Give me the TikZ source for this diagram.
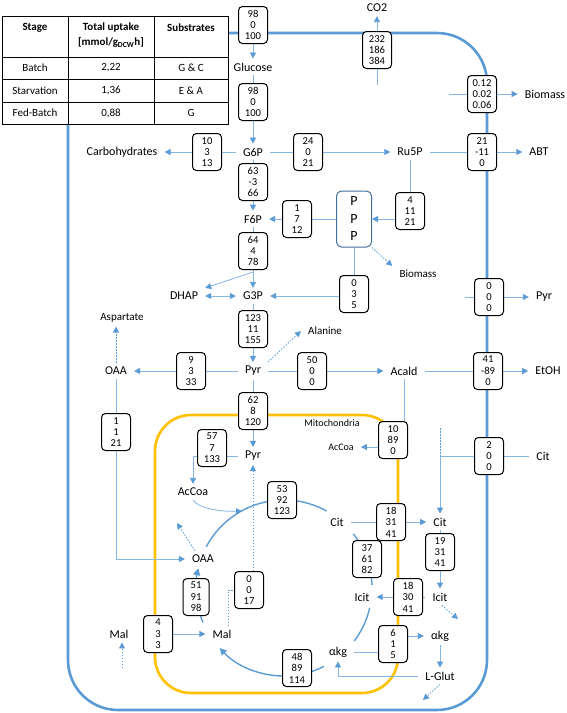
\documentclass[tikz,border=0pt]{standalone}
\usepackage{fontspec}
\setmainfont{Carlito}
\usetikzlibrary{arrows.meta,backgrounds,calc}
\definecolor{memblue}{HTML}{5B9BD5}
\definecolor{lineblue}{HTML}{86B5E2}
\definecolor{tipblue}{HTML}{5B9BD5}
\definecolor{mitoorange}{HTML}{FFC000}
\definecolor{pppblue}{HTML}{41719C}
\tikzset{
 lab/.style={font=\fontsize{12}{14}\selectfont, inner xsep=7pt, inner ysep=4pt},
 slab/.style={lab, font=\fontsize{11}{13}\selectfont},
 tlab/.style={lab, font=\fontsize{10}{12}\selectfont},
 fbox/.style={draw=black, line width=1pt, rounded corners=4pt, fill=white, align=center, minimum width=29pt, minimum height=37pt, inner sep=1pt, font=\fontsize{10.6}{11.4}\selectfont},
 pppbox/.style={draw=pppblue, line width=1pt, rounded corners=5pt, fill=white, align=center, minimum width=35pt, minimum height=56pt, inner sep=1pt, font=\fontsize{14}{17.5}\selectfont},
 ln/.style={draw=lineblue, line width=0.8pt},
 arr/.style={ln, -{Triangle[length=6pt,width=6pt,color=tipblue]}},
 dbl/.style={ln, {Triangle[length=6pt,width=6pt,color=tipblue]}-{Triangle[length=6pt,width=6pt,color=tipblue]}},
 dln/.style={draw=tipblue, line width=0.8pt, dash pattern=on 1.5pt off 1.5pt},
 darr/.style={dln, -{Triangle[length=6pt,width=6pt]}},
 ring/.style={draw=memblue, line width=1.4pt},
 rarr/.style={ring, -{Triangle[length=7pt,width=7pt]}},
 membrane/.style={draw=memblue, line width=2.6pt},
 mito/.style={draw=mitoorange, line width=2.6pt},
 tabline/.style={draw=black, line width=0.8pt},
 cell/.style={font=\fontsize{11}{13}\selectfont, inner sep=0pt},
 hcell/.style={font=\fontsize{11}{15}\selectfont\bfseries, inner sep=0pt, align=center},
}
\begin{document}
\begin{tikzpicture}[x=1pt,y=-1pt]
\useasboundingbox (0,0) rectangle (567,713);
% table
\draw[tabline] (2,16) rectangle (228,124);
\draw[tabline] (68,16) -- (68,124) (154,16) -- (154,124);
\draw[tabline] (2,57) -- (228,57) (2,79.5) -- (228,79.5) (2,102) -- (228,102);
\node[hcell] (hStage) at (35,28) {Stage};
\node[hcell] (hUp) at (111,35.5) {Total uptake\\{[mmol/g\textsubscript{DCW}h]}};
\node[hcell] (hSub) at (191,28) {Substrates};
\node[cell] (r1a) at (35,68) {Batch};
\node[cell] (r1b) at (111,68) {2,22};
\node[cell] (r1c) at (191,68) {G \& C};
\node[cell] (r2a) at (35,90.5) {Starvation};
\node[cell] (r2b) at (111,90.5) {1,36};
\node[cell] (r2c) at (191,90.5) {E \& A};
\node[cell] (r3a) at (35,113) {Fed-Batch};
\node[cell] (r3b) at (111,113) {0,88};
\node[cell] (r3c) at (191,113) {G};
% nodes
\node[fbox] (bGlcUp) at (253,25) {98\\0\\100};
\node[lab] (glc) at (253,67) {Glucose};
\node[fbox] (bGlc) at (253,102) {98\\0\\100};
\node[lab] (g6p) at (253,152) {G6P};
\node[fbox] (bCO2) at (377,50) {232\\186\\384};
\node[lab] (co2) at (377,8) {CO2};
\coordinate (co2in) at (377,85);
\node[fbox] (bBio) at (482,94) {0.12\\0.02\\0.06};
\node[lab] (bio1) at (545,94) {Biomass};
\coordinate (bioin) at (449,94);
\node[lab] (carb) at (122,152) {Carbohydrates};
\node[fbox] (bCarb) at (207,152) {10\\3\\13};
\node[fbox] (bG6PRu) at (308,152) {24\\0\\21};
\node[lab] (ru5p) at (410,152) {Ru5P};
\node[fbox] (bABT) at (482,152) {21\\-11\\0};
\node[lab] (abt) at (539,152) {ABT};
\node[fbox] (bF6P) at (253,182) {63\\-3\\66};
\node[lab] (f6p) at (253,219) {F6P};
\node[fbox] (bPPF) at (297,219) {1\\7\\12};
\node[pppbox] (ppp) at (354,219) {P\\P\\P};
\node[fbox] (bRuP) at (410,211) {4\\11\\21};
\node[slab] (bio2) at (418,274) {Biomass};
\node[fbox] (bPG) at (354,294) {0\\3\\5};
\node[fbox] (bFG) at (253,251) {64\\4\\78};
\coordinate (brDHAP) at (253,272);
\node[lab] (dhap) at (184,296) {DHAP};
\node[lab] (g3p) at (253,296) {G3P};
\node[fbox] (bGP) at (253,329) {123\\11\\155};
\node[lab] (pyrc) at (253,371) {Pyr};
\node[slab] (ala) at (325,331) {Alanine};
\node[slab] (asp) at (122,318) {Aspartate};
\node[lab] (oaac) at (116,371) {OAA};
\node[fbox] (bPO) at (191,371) {9\\3\\33};
\node[fbox] (bPA) at (312,371) {50\\0\\0};
\node[lab] (acald) at (404,371) {Acald};
\node[fbox] (bEt) at (488,371) {41\\-89\\0};
\node[lab] (etoh) at (548,371) {EtOH};
\node[fbox] (bPX) at (489,297) {0\\0\\0};
\node[lab] (pyrx) at (544,297) {Pyr};
\coordinate (pyrxin) at (465,297);
\node[fbox] (bPM) at (253,411) {62\\8\\120};
\node[lab] (pyrm) at (253,456) {Pyr};
\node[fbox] (bPAc) at (212,448) {57\\7\\133};
\node[lab] (accoa1) at (193,492) {AcCoa};
\node[tlab] (mitolab) at (332,423) {Mitochondria};
\node[fbox] (bAc) at (393,440) {10\\89\\0};
\node[tlab] (accoa2) at (341,447) {AcCoa};
\node[fbox] (bCX) at (489,456) {2\\0\\0};
\node[lab] (citx) at (543,456) {Cit};
\coordinate (dstub) at (440,428);
\node[fbox] (bOAA) at (116,432) {1\\1\\21};
\node[lab] (oaam) at (203,559) {OAA};
\node[fbox] (b53) at (282,500) {53\\92\\123};
\node[lab] (citm) at (337,522) {Cit};
\node[fbox] (bCT) at (391,522) {18\\31\\41};
\node[lab] (citc) at (440,522) {Cit};
\node[fbox] (b37) at (367,559) {37\\61\\82};
\node[fbox] (bCI) at (440,552) {19\\31\\41};
\node[lab] (icitc) at (440,597) {Icit};
\node[fbox] (b18) at (408,597) {18\\30\\41};
\node[lab] (icitm) at (362,597) {Icit};
\coordinate (icitout) at (458,619);
\node[fbox, minimum width=26pt] (b51) at (196,597) {51\\91\\98};
\node[fbox] (b0017) at (249,590) {0\\0\\17};
\coordinate (me1) at (228,626);
\node[lab] (malm) at (222,634) {Mal};
\node[lab] (malc) at (119,634) {Mal};
\node[fbox] (b433) at (158,634) {4\\3\\3};
\coordinate (malin) at (122,668);
\node[lab] (akgm) at (338,652) {αkg};
\node[fbox] (b615) at (393,644) {6\\1\\5};
\node[lab] (akgc) at (440,636) {αkg};
\node[lab] (lglut) at (440,676) {L-Glut};
\coordinate (lgout) at (423,700);
\node[fbox] (b48) at (297,668) {48\\89\\114};
\coordinate (oaaup) at (177,523);
\coordinate (accoaend) at (242,511);
\coordinate (tc) at (284,588);
\begin{pgfonlayer}{background}
\draw[membrane, rounded corners=50pt] (228,33) -- (487,33) -- (487,710) -- (68,710) -- (68,124);
\draw[mito, rounded corners=36pt] (155,415) rectangle (398,693);
\draw[arr] (bGlcUp) -- (glc);
\draw[ln] (glc) -- (bGlc);
\draw[arr] (bGlc) -- (g6p);
\draw[ln] (co2in) -- (bCO2);
\draw[arr] (bCO2) -- (co2);
\draw[ln] (bioin) -- (bBio);
\draw[arr] (bBio) -- (bio1);
\draw[ln] (g6p) -- (bCarb);
\draw[arr] (bCarb) -- (carb);
\draw[ln] (g6p) -- (bG6PRu);
\draw[arr] (bG6PRu) -- (ru5p);
\draw[ln] (ru5p) -- (bABT);
\draw[arr] (bABT) -- (abt);
\draw[ln] (g6p) -- (bF6P);
\draw[arr] (bF6P) -- (f6p);
\draw[ln] (ru5p) -- (bRuP);
\draw[arr] (bRuP.west |- ppp.east) -- (ppp.east);
\draw[ln] (ppp) -- (bPPF);
\draw[arr] (bPPF) -- (f6p);
\draw[darr] (ppp.south east) -- (bio2.north west);
\draw[ln] (ppp) -- (bPG);
\draw[arr] (bPG.west |- g3p) -- (g3p);
\draw[ln] (f6p) -- (bFG);
\draw[arr] (bFG) -- (g3p);
\draw[arr] (brDHAP) -- (dhap.north east);
\draw[dbl] (dhap) -- (g3p);
\draw[ln] (g3p) -- (bGP);
\draw[arr] (bGP) -- (pyrc);
\draw[darr] (pyrc.north east) -- (ala.west);
\draw[ln] (pyrc) -- (bPO);
\draw[arr] (bPO) -- (oaac);
\draw[darr] (oaac.north) -- (oaac.north |- asp.south);
\draw[ln] (pyrc) -- (bPA);
\draw[arr] (bPA) -- (acald);
\draw[ln] (acald) -- (bEt);
\draw[arr] (bEt) -- (etoh);
\draw[ln] (pyrxin) -- (bPX);
\draw[arr] (bPX) -- (pyrx);
\draw[ln] (pyrc) -- (bPM);
\draw[arr] (bPM) -- (pyrm);
\draw[ln] (pyrm.west) -- (bPAc.east |- pyrm.west);
\draw[arr] (bPAc.west |- pyrm.west) -| (accoa1.north);
\draw[dln] (me1) |- (b0017.west);
\draw[darr] (b0017.north -| pyrm.south) -- (pyrm.south);
\draw[arr] (accoa1.south) .. controls (198,508) and (220,512) .. (accoaend);
\draw[ln] (acald.south) -- (acald.south |- bAc.north);
\draw[arr] (bAc.west |- accoa2) -- (accoa2);
\draw[ln] (citx) -- (bCX);
\draw[arr] (bCX) -| (citc);
\draw[dln] (dstub) -- (dstub |- bCX);
\draw[ln] (oaac) -- (bOAA);
\draw[arr] (bOAA) |- (oaam);
\draw[ln] (citm) -- (bCT);
\draw[arr] (bCT) -- (citc);
\draw[ln] (citc) -- (bCI);
\draw[arr] (bCI) -- (icitc);
\draw[ln] (icitc) -- (b18);
\draw[arr] (b18) -- (icitm);
\draw[darr] ([xshift=2pt]icitc.south) -- (icitout);
\draw[ln] (akgm) -- (b615.west |- akgm);
\draw[arr] (b615.east |- akgc) -- (akgc);
\draw[arr] (akgc) -- (lglut);
\draw[arr] (lglut.west) -| (akgm.south);
\draw[darr] (lglut.south) -- (lgout);
\draw[arr] (b433) -- (malm);
\draw[darr] (malin) -- (malin |- malc.south);
\draw[darr] ([xshift=-8pt]oaam.north) -- (oaaup);
% TCA ring
\draw[ring] (tc) ++(-152:88) arc[start angle=-152, end angle=-95, radius=88];
\draw[ring] (tc) ++(-85:88) arc[start angle=-85, end angle=-61, radius=88];
\draw[ring] (tc) ++(-38:88) arc[start angle=-38, end angle=-25, radius=88];
\draw[ring] (tc) ++(-12:88) arc[start angle=-12, end angle=-2, radius=88];
\draw[ring] (tc) ++(13:88) arc[start angle=13, end angle=37, radius=88];
\draw[ring] (tc) ++(63:88) arc[start angle=63, end angle=75, radius=88];
\draw[rarr] (tc) ++(88:88) arc[start angle=88, end angle=137, radius=88];
\draw[ring] (tc) ++(157:88) arc[start angle=157, end angle=168, radius=88];
\draw[rarr] (tc) ++(180:88) arc[start angle=180, end angle=193, radius=88];
\end{pgfonlayer}
\end{tikzpicture}
\end{document}
